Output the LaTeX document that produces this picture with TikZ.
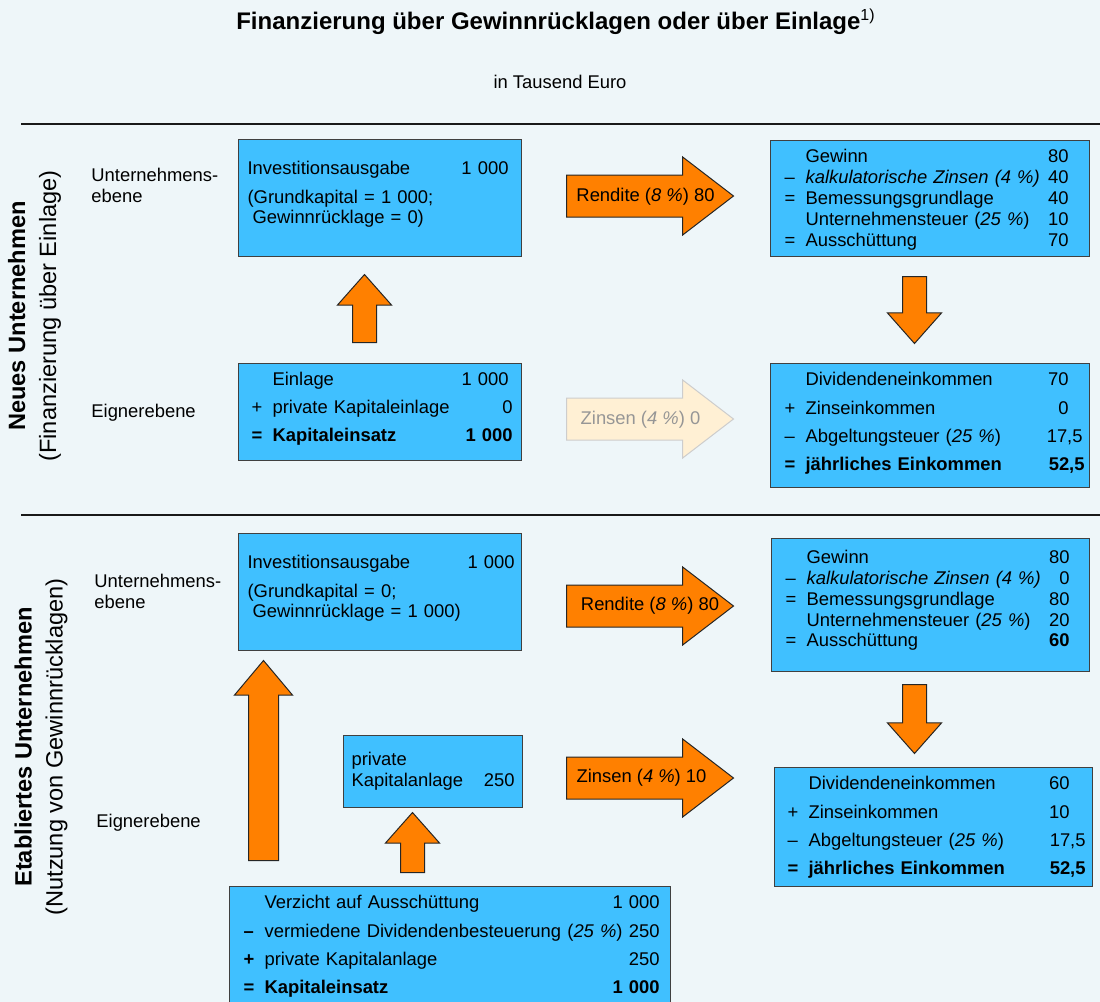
\documentclass[tikz,border=0pt]{standalone}
\usepackage{fontspec}
\setmainfont{Liberation Sans}
\usetikzlibrary{shapes.arrows}
\definecolor{bgpage}{RGB}{238,246,249}
\definecolor{boxblue}{RGB}{64,192,255}
\definecolor{arroworange}{RGB}{255,128,0}
\definecolor{fadedfill}{RGB}{255,240,212}
\definecolor{fadedline}{RGB}{205,205,205}
\definecolor{fadedtext}{RGB}{150,150,150}
\newcommand{\opc}[1]{\makebox[10.5pt][l]{#1}}

\begin{document}
\begin{tikzpicture}[x=0.5pt, y=-0.5pt,
    every node/.style={font=\fontsize{9.2}{11}\selectfont, inner sep=0pt},
    box/.style={draw=black!75, line width=0.6pt, fill=boxblue, anchor=north west, inner ysep=0pt, align=left},
    blockarrow/.style={single arrow, draw=black!85, line width=0.5pt, fill=arroworange, single arrow head indent=0pt, anchor=tail},
    sidearrow/.style={blockarrow, minimum height=83.5pt, minimum width=38.5pt, inner sep=10.25pt, single arrow head extend=9pt, single arrow tip angle=75},
    uparrow/.style={blockarrow, shape border rotate=90, minimum width=26.5pt, inner sep=5.75pt, single arrow head extend=7.5pt, single arrow tip angle=83},
    downarrow/.style={uparrow, shape border rotate=270},
    planelabel/.style={anchor=west, align=left, font=\fontsize{9.2}{10.5}\selectfont},
    sidelabel/.style={rotate=90, align=center, font=\fontsize{11.8}{15.5}\selectfont},
    sepline/.style={line width=1.3pt, black!90}]

    \fill[bgpage] (0,0) rectangle (1100,1002);
    \useasboundingbox (0,0) rectangle (1100,1002);

    % Kopf
    \node[font=\fontsize{12}{14}\selectfont\bfseries] (titel) at (556,22) {Finanzierung über Gewinnrücklagen oder über Einlage\textsuperscript{\mdseries 1)}};
    \node (einheit) at (560,82) {in Tausend Euro};

    \draw[sepline] (21,124) -- (1100,124);
    \draw[sepline] (21,515) -- (1100,515);

    \node[sidelabel] (neu) at (34.5,316) {\textbf{Neues Unternehmen}\\(Finanzierung über Einlage)};
    \node[sidelabel] (alt) at (41,747) {\textbf{Etabliertes Unternehmen}\\(Nutzung von Gewinnrücklagen)};

    \node[planelabel] (uebeneNeu) at (91,185) {Unternehmens-\\ebene};
    \node[planelabel] (eignerNeu) at (91,413) {Eignerebene};
    \node[planelabel] (uebeneAlt) at (94,591) {Unternehmens-\\ebene};
    \node[planelabel] (eignerAlt) at (96,823) {Eignerebene};

    % Neues Unternehmen
    \node[box, inner xsep=4.5pt, text width=132.5pt, text height=17.5pt, text depth=41pt, font=\fontsize{9.2}{10}\selectfont] (invNeu) at (238,139)
        {Investitionsausgabe\hfill 1~000\kern2pt\\[4.5pt]
         (Grundkapital = 1~000;\\
         \hspace*{2.5pt}Gewinnrücklage = 0)};
    \node[box, inner xsep=6.5pt, text width=128.5pt, text height=11pt, text depth=37.5pt, font=\fontsize{9.2}{14}\selectfont] (einlageNeu) at (238,363)
        {\opc{}Einlage\hfill 1~000\\
         \opc{+}private Kapitaleinlage\hfill 0\kern-2pt\\
         \bfseries\opc{=}Kapitaleinsatz\hfill 1~000\kern-2pt};
    \node[box, inner xsep=7pt, text width=145.5pt, text height=11pt, text depth=47pt, font=\fontsize{9.2}{10.5}\selectfont] (gewinnNeu) at (770,140)
        {\opc{}Gewinn\hfill 80\kern3.5pt\\
         \opc{–}\textit{kalkulatorische Zinsen (4 \%)}\hfill 40\kern3.5pt\\
         \opc{=}Bemessungsgrundlage\hfill 40\kern3.5pt\\
         \opc{}Unternehmensteuer (\textit{25 \%})\hfill 10\kern3.5pt\\
         \opc{=}Ausschüttung\hfill 70\kern3.5pt};
    \node[box, inner xsep=7pt, text width=145.5pt, text height=11pt, text depth=51pt, font=\fontsize{9.2}{14.2}\selectfont] (einkommenNeu) at (770,363)
        {\opc{}Dividendeneinkommen\hfill 70\kern3.5pt\\
         \opc{+}Zinseinkommen\hfill 0\kern3.5pt\\
         \opc{–}Abgeltungsteuer (\textit{25 \%})\hfill 17,5\kern-3.5pt\\
         \bfseries\opc{=}jährliches Einkommen\hfill 52,5\kern-4.5pt};

    \node[sidearrow] (renditeNeu) at (566,196) {};
    \node[sidearrow, fill=fadedfill, draw=fadedline] (zinsenNeu) at (566,419) {};
    \node (renditeNeuText) at (645.5,197) {Rendite (\textit{8 \%}) 80};
    \node[text=fadedtext] (zinsenNeuText) at (640.5,420) {Zinsen (\textit{4 \%}) 0};
    \node[uparrow, minimum height=34pt] (hochNeu) at (364.5,343) {};
    \node[downarrow, minimum height=33.5pt] (runterNeu) at (914.5,276) {};

    % Etabliertes Unternehmen
    \node[box, inner xsep=4.5pt, text width=132.5pt, text height=17.5pt, text depth=41pt, font=\fontsize{9.2}{10}\selectfont] (invAlt) at (238,533)
        {Investitionsausgabe\hfill 1~000\kern-1pt\\[4.5pt]
         (Grundkapital = 0;\\
         \hspace*{2.5pt}Gewinnrücklage = 1~000)};
    \node[box, inner xsep=4pt, text width=81.5pt, text height=15pt, text depth=21pt, font=\fontsize{9.2}{10.5}\selectfont] (anlageAlt) at (343,735)
        {private\\
         Kapitalanlage\hfill 250};
    \node[box, inner xsep=7pt, text width=206.5pt, text height=11pt, text depth=51pt, font=\fontsize{9.2}{14.2}\selectfont] (verzichtAlt) at (229,886)
        {\opc{}Verzicht auf Ausschüttung\hfill 1~000\kern-1.5pt\\
         \opc{\textbf{–}}vermiedene Dividendenbesteuerung (\textit{25 \%})\hfill 250\kern-1.5pt\\
         \opc{\textbf{+}}private Kapitalanlage\hfill 250\kern-1.5pt\\
         \bfseries\opc{=}Kapitaleinsatz\hfill 1~000\kern-1.5pt};
    \node[box, inner xsep=7pt, text width=145pt, text height=12.5pt, text depth=54pt, font=\fontsize{9.2}{10.4}\selectfont] (gewinnAlt) at (771,538)
        {\opc{}Gewinn\hfill 80\kern3pt\\
         \opc{–}\textit{kalkulatorische Zinsen (4 \%)}\hfill 0\kern3pt\\
         \opc{=}Bemessungsgrundlage\hfill 80\kern3pt\\
         \opc{}Unternehmensteuer (\textit{25 \%})\hfill 20\kern3pt\\
         \opc{=}Ausschüttung\hfill \textbf{60}\kern3pt};
    \node[box, inner xsep=6.5pt, text width=146pt, text height=11pt, text depth=48.5pt, font=\fontsize{9.2}{14.2}\selectfont] (einkommenAlt) at (774,767)
        {\opc{}Dividendeneinkommen\hfill 60\kern5pt\\
         \opc{+}Zinseinkommen\hfill 10\kern5pt\\
         \opc{–}Abgeltungsteuer (\textit{25 \%})\hfill 17,5\kern-3pt\\
         \bfseries\opc{=}jährliches Einkommen\hfill 52,5\kern-3pt};

    \node[sidearrow] (renditeAlt) at (566,606) {};
    \node[sidearrow] (zinsenAlt) at (566,778) {};
    \node (renditeAltText) at (650,606) {Rendite (\textit{8 \%}) 80};
    \node (zinsenAltText) at (641.5,778) {Zinsen (\textit{4 \%}) 10};
    \node[uparrow, minimum height=100pt, minimum width=28.5pt, inner sep=7.25pt, single arrow head extend=7pt, single arrow tip angle=80] (hochAlt) at (263.5,861) {};
    \node[uparrow, minimum height=30pt] (hochAnlage) at (412.5,873) {};
    \node[downarrow, minimum height=34.5pt] (runterAlt) at (914.5,684) {};
\end{tikzpicture}
\end{document}
